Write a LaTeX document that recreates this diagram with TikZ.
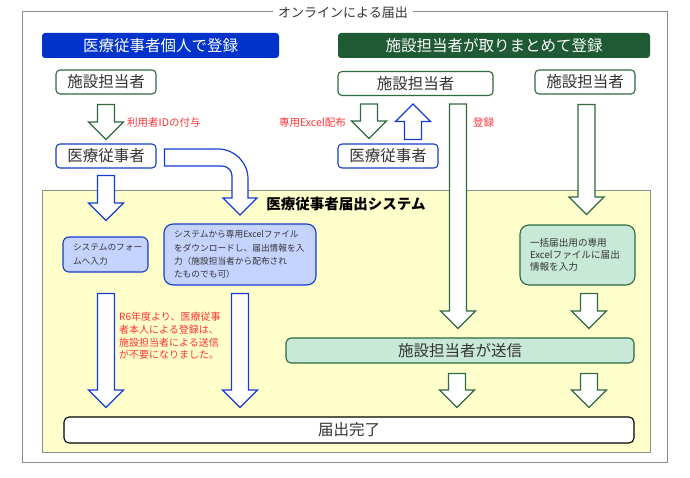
\documentclass[tikz,border=0pt]{standalone}
\usepackage{fontspec}
\setmainfont{Noto Sans CJK JP}
\definecolor{hdblue}{RGB}{0,51,204}
\definecolor{hdgreen}{RGB}{30,90,52}
\definecolor{lnblue}{RGB}{20,60,210}
\definecolor{lngreen}{RGB}{46,105,64}
\definecolor{fillblue}{RGB}{197,211,255}
\definecolor{fillgreen}{RGB}{200,233,216}
\definecolor{sysyellow}{RGB}{255,255,204}
\definecolor{notered}{RGB}{255,51,51}
\definecolor{txtgray}{RGB}{51,51,51}
\definecolor{framegray}{RGB}{140,140,140}
\usetikzlibrary{calc}

\begin{document}
\begin{tikzpicture}[x=1pt,y=-1pt,
    every node/.style={inner sep=0pt,text=txtgray},
    bigfont/.style={font=\fontsize{15.5}{18}\selectfont},
    hdbox/.style={bigfont,rounded corners=3pt,minimum height=25pt,text=white},
    psbox/.style={bigfont,draw,fill=white,rounded corners=4pt,line width=1.1pt,minimum height=24pt},
    inbox/.style={draw,rounded corners=9pt,line width=1.1pt,align=left,inner xsep=10pt,font=\fontsize{8.7}{13.3}\selectfont},
    redlabel/.style={text=notered,font=\fontsize{10.5}{12}\selectfont},
    blk/.style={to path={let \p1=(\tikztostart), \p2=(\tikztotarget),
        \n1={ifthenelse(\y2<\y1,\y2+17.5,\y2-17.5)} in
        (\x1-8.5,\y1) -- (\x1-8.5,\n1) -- (\x1-17.5,\n1) -- (\x1,\y2)
        -- (\x1+17.5,\n1) -- (\x1+8.5,\n1) -- (\x1+8.5,\y1) -- cycle}},
    garr/.style={blk,draw=lngreen,fill=white,line width=1.2pt},
    barr/.style={blk,draw=lnblue,fill=white,line width=1.2pt}
    ]
    \useasboundingbox (0,0) rectangle (690,478);

    % frame and system area
    \draw[framegray,line width=1pt] (22,12) rectangle (667,462);
    \node[fill=white,inner xsep=5pt,font=\fontsize{13}{15}\selectfont] (ttl) at (343,13) {オンラインによる届出};
    \draw[draw=framegray,fill=sysyellow,line width=1pt] (42,191) rectangle (650,452);
    \node[font=\bfseries\fontsize{14.5}{17}\selectfont,text=black] (sys) at (346,204) {医療従事者届出システム};

    % headers
    \node[hdbox,fill=hdblue,minimum width=237pt] (hd1) at (160.5,45.5) {医療従事者個人で登録};
    \node[hdbox,fill=hdgreen,minimum width=312pt] (hd2) at (494,45.5) {施設担当者が取りまとめて登録};

    % people
    \node[psbox,draw=lngreen,minimum width=100pt] (fa1) at (106,82) {施設担当者};
    \node[psbox,draw=lngreen,minimum width=155pt] (fa2) at (415.5,83.5) {施設担当者};
    \node[psbox,draw=lngreen,minimum width=100pt] (fa3) at (585,82) {施設担当者};
    \node[psbox,draw=lnblue,minimum width=100pt] (hw1) at (106,156) {医療従事者};
    \node[psbox,draw=lnblue,minimum width=100pt] (hw2) at (388,156) {医療従事者};

    % input steps
    \node[inbox,draw=lnblue,fill=fillblue,rounded corners=6pt,text width=65pt,minimum height=35pt] (in1) at (105.5,254.5)
        {システムのフォー\\ムへ入力};
    \node[inbox,draw=lnblue,fill=fillblue,text width=132pt,minimum height=61pt] (in2) at (240,254.5)
        {システムから専用Excelファイル\\をダウンロードし、届出情報を入\\力（施設担当者から配布され\\たものでも可）};
    \node[inbox,draw=lngreen,fill=fillgreen,text width=95pt,minimum height=60pt,font=\fontsize{9.6}{12.3}\selectfont] (in3) at (577.5,255)
        {一括届出用の専用\\Excelファイルに届出\\情報を入力};
    \node[bigfont,draw=lngreen,fill=fillgreen,rounded corners=5pt,line width=1.1pt,minimum width=348pt,minimum height=25pt] (snd) at (460,350.5) {施設担当者が送信};
    \node[bigfont,draw=black,fill=white,rounded corners=5pt,line width=1.1pt,minimum width=570pt,minimum height=26pt] (dn) at (349,430) {届出完了};

    % red notes
    \node[redlabel,anchor=west] (lb1) at (127,123) {利用者IDの付与};
    \node[redlabel,anchor=east] (lb2) at (346,123) {専用Excel配布};
    \node[redlabel,anchor=west] (lb3) at (473,123) {登録};
    \node[text=notered,align=left,anchor=north west,font=\fontsize{10}{12.7}\selectfont] (nt) at (119,312)
        {R6年度より、医療従事\\者本人による登録は、\\施設担当者による送信\\が不要になりました。};

    % the arrows
    \draw[garr] ($(fa1.south)+(0,10)$) to ($(hw1.north)+(0,-4)$);
    \draw[barr] ($(hw1.south)+(0,7)$) to ($(hw1.south |- in1.north)+(0,-16)$);
    \draw[draw=lnblue,fill=white,line width=1.2pt] ($(hw1.east)+(8,-7)$) -- (218,149)
        .. controls (234.6,149) and (248,162.4) .. (248,179) -- (248,198) -- (257,198) -- (240,215)
        -- (223,198) -- (232,198) -- (232,176) .. controls (232,170.5) and (227.5,166) .. (222,166)
        -- ($(hw1.east)+(8,10)$) -- cycle;
    \draw[garr] ($(fa2.south)+(-46.5,8)$) to ($(hw2.north)+(-19,-5)$);
    \draw[barr] ($(hw2.north)+(25,-4)$) to ($(fa2.south)+(-2.5,8)$);
    \draw[garr] ($(fa2.south)+(42.5,8)$) to ($(snd.north)+(-2,-9)$);
    \draw[garr] ($(fa3.south)+(1.5,10)$) to ($(in3.north)+(9,-10)$);
    \draw[barr] ($(hw1.south |- in1.south)+(0,21)$) to ($(hw1.south |- dn.north)+(0,-9)$);
    \draw[barr] ($(in2.south)+(0,8)$) to ($(in2.south |- dn.north)+(0,-9)$);
    \draw[garr] ($(in3.south)+(11.5,8)$) to ($(in3.south |- snd.north)+(11.5,-9)$);
    \draw[garr] ($(snd.south)+(-3,10)$) to ($(snd.south |- dn.north)+(-3,-9)$);
    \draw[garr] ($(snd.south)+(129,10)$) to ($(snd.south |- dn.north)+(129,-9)$);
\end{tikzpicture}
\end{document}
